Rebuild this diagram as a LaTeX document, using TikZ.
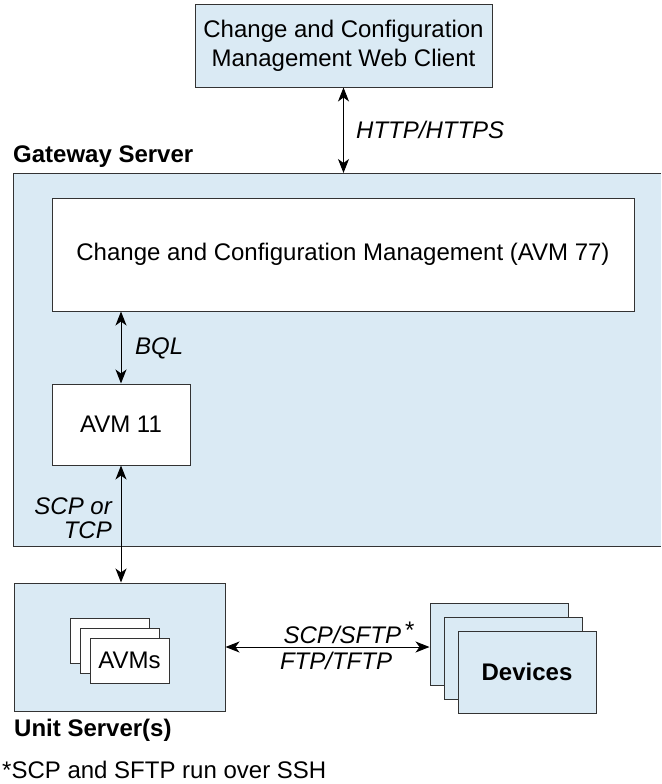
\documentclass[tikz,border=0pt]{standalone}
\usepackage{fontspec}
\setmainfont{Liberation Sans}
\usetikzlibrary{arrows.meta}
\definecolor{paleblue}{HTML}{DAEAF4}
\definecolor{edge}{HTML}{333333}
\tikzset{
  box/.style={draw=edge, line width=1pt, fill=white, inner sep=0pt, align=center, font=\fontsize{24}{29}\selectfont},
  bluebox/.style={box, fill=paleblue},
  biarrow/.style={line width=1pt, {Stealth[length=14pt,width=11pt,inset=4pt]}-{Stealth[length=14pt,width=11pt,inset=4pt]}},
  lbl/.style={font=\fontsize{24}{24}\selectfont\itshape, inner sep=0pt},
  title/.style={font=\fontsize{24}{28}\selectfont\bfseries, inner sep=0pt, anchor=west}
}
\begin{document}
\begin{tikzpicture}[x=1pt,y=-1pt]
\useasboundingbox (0,0) rectangle (661,784);
% client
\node[bluebox, minimum width=297pt, minimum height=82pt] (client) at (343.5,46) {Change and Configuration\\Management Web Client};
% gateway
\fill[paleblue] (13,173) rectangle (661,546);
\draw[edge, line width=1pt] (661,173) -- (13,173) -- (13,546) -- (661,546);
\coordinate (gwtop) at (343.5,173);
\node[title] (gwlbl) at (13,157) {Gateway Server};
\draw[biarrow] (client.south) -- (gwtop);
\node[lbl, anchor=west] (http) at (356,130) {HTTP/HTTPS};
% big box
\node[box, minimum width=582pt, minimum height=113pt] (ccm) at (343,254.5) {Change and Configuration Management (AVM 77)};
% AVM 11
\node[box, minimum width=138pt, minimum height=81pt] (avm) at (121,424.5) {AVM 11};
\draw[biarrow] (avm.north |- ccm.south) -- (avm.north);
\node[lbl, anchor=west] (bql) at (135,348) {BQL};
% unit server
\node[bluebox, minimum width=211pt, minimum height=128pt] (unit) at (119.5,647) {};
\draw[biarrow] (avm.south) -- (avm.south |- unit.north);
\node[lbl, anchor=east, align=right] (scp) at (112,518) {SCP or\\TCP};
\node[title] (unitlbl) at (14,730) {Unit Server(s)};
% AVMs stack
\node[box, minimum width=79pt, minimum height=45pt] (a1) at (109.5,640.5) {};
\node[box, minimum width=79pt, minimum height=45pt] (a2) at (119.5,650.5) {};
\node[box, minimum width=79pt, minimum height=45pt] (a3) at (129.5,660.5) {AVMs};
% devices stack
\node[bluebox, minimum width=138pt, minimum height=82pt] (d1) at (499,644) {};
\node[bluebox, minimum width=138pt, minimum height=82pt] (d2) at (513,658) {};
\node[bluebox, minimum width=138pt, minimum height=82pt, font=\fontsize{24}{28}\selectfont\bfseries] (d3) at (527,672) {Devices};
\draw[biarrow] (unit.east) -- (unit.east -| d1.west);
\node[lbl] (sftp) at (349,633) {SCP/SFTP\,\raisebox{5pt}{\normalfont *}};
\node[lbl] (tftp) at (336,661) {FTP/TFTP};
% footnote
\node[inner sep=0pt, anchor=west, font=\fontsize{24}{28}\selectfont] (foot) at (2,770) {*SCP and SFTP run over SSH};
\end{tikzpicture}
\end{document}
